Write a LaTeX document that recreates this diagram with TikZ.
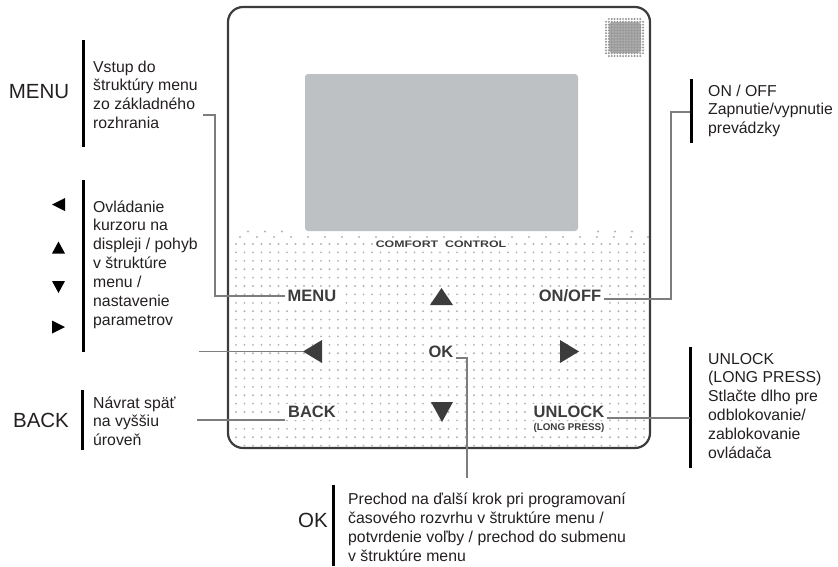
\documentclass[tikz,border=0pt]{standalone}
\usepackage{fontspec}
\setmainfont{Liberation Sans}
\newfontfamily\widefont[FakeStretch=1.3]{Liberation Sans}

\definecolor{frame}{HTML}{3C3C3C}
\definecolor{lcd}{HTML}{BDC1C4}
\definecolor{dots}{HTML}{B3B3B3}
\definecolor{grille}{HTML}{959595}
\definecolor{lead}{HTML}{7D7D7D}
\definecolor{ink}{HTML}{231F20}

\tikzset{
    desctext/.style={anchor=base west, align=left, inner sep=0pt, text=ink, font=\fontsize{15.8}{18.9}\selectfont},
    biglabel/.style={text=ink, inner sep=0pt, font=\fontsize{20.5}{24}\selectfont},
    keylabel/.style={text=frame, fill=white, inner sep=2.5pt, font=\fontsize{16.5}{18}\selectfont\bfseries},
    leadline/.style={draw=lead, line width=1.8pt},
    descbar/.style={draw=black, line width=3pt},
}

\begin{document}
\begin{tikzpicture}[x=1pt, y=-1pt]
    \useasboundingbox (0,0) rectangle (838,566);

    % Ovládač
    \begin{scope}
        \clip[rounded corners=14] (229,8) rectangle (649,447);
        \foreach \r in {0,...,24}
            \foreach \c in {0,...,48}
                \fill[dots] (236+\c*8.5, 244+\r*8.4) circle (1.05);
        \foreach \c in {0,...,24}
            \fill[dots] (240+\c*17, 237) circle (1.05);
        \foreach \x in {248,265,282,598,615,632}
            \fill[dots] (\x, 231.5) circle (1.05);
    \end{scope}
    \draw[frame, line width=2.2pt, rounded corners=15] (228,7) rectangle (650,448);
    \fill[lcd, rounded corners=3] (305,74) rectangle (578,231);

    % reproduktor
    \fill[grille!80, rounded corners=3] (609,22) rectangle (641,53);
    \foreach \r in {1,...,12}
        \foreach \c in {0,...,13}
            \fill[grille] (606+\c*2.85, 19+\r*2.85) circle (1.1);
    \foreach \r in {0,13}
        \foreach \c in {1,...,12}
            \fill[grille] (606+\c*2.85, 19+\r*2.85) circle (1.1);

    \node[fill=white, inner sep=2pt, text=frame, font=\widefont\fontsize{9.5}{10}\selectfont\bfseries] (brand) at (441,244) {COMFORT\ \ CONTROL};

    % tlačidlá
    \node[keylabel] (bmenu) at (312,296) {MENU};
    \node[keylabel] (bonoff) at (570,296) {ON/OFF};
    \node[keylabel] (bok) at (441,352) {OK};
    \node[keylabel] (bback) at (312,412) {BACK};
    \node[keylabel] (bunlock) at (569,412) {UNLOCK};
    \node[keylabel, inner sep=1pt, font=\fontsize{9.8}{11}\selectfont\bfseries] (blong) at (569,428) {(LONG PRESS)};

    \coordinate (kup) at (441.5,288);
    \coordinate (kdown) at (442,422);
    \coordinate (kleft) at (303,351.5);
    \coordinate (kright) at (579,351.5);
    \fill[frame] (kup) -- ++(11.5,17) -- ++(-23,0) -- cycle;
    \fill[frame] (kdown) -- ++(11,-20) -- ++(-22,0) -- cycle;
    \fill[frame] (kleft) -- ++(19,-11.5) -- ++(0,23) -- cycle;
    \fill[frame] (kright) -- ++(-19,-11.5) -- ++(0,23) -- cycle;

    % popisy vľavo
    \node[biglabel] (lmenu) at (39,92) {MENU};
    \draw[descbar] (83,40) -- (83,147);
    \node[desctext] (dmenu) at (93,128.7) {Vstup do\\štruktúry menu\\zo základného\\rozhrania};

    \fill (52,204.5) -- ++(13,-6.5) -- ++(0,13) -- cycle;
    \fill (58.5,241.5) -- ++(6.5,12) -- ++(-13,0) -- cycle;
    \fill (58.5,293) -- ++(6.5,-12) -- ++(-13,0) -- cycle;
    \fill (65,327) -- ++(-13,-6.5) -- ++(0,13) -- cycle;
    \draw[descbar] (83,180) -- (83,352);
    \node[desctext] (darrows) at (93,325.4) {Ovládanie\\kurzoru na\\displeji / pohyb\\v štruktúre\\menu /\\nastavenie\\parametrov};

    \node[biglabel] (lback) at (41,420) {BACK};
    \draw[descbar] (82,390) -- (82,450);
    \node[desctext] (dback) at (93,445.8) {Návrat späť\\na vyššiu\\úroveň};

    % popisy vpravo
    \draw[descbar] (691,79) -- (691,143);
    \node[desctext] (donoff) at (708,133.8) {ON / OFF\\Zapnutie/vypnutie\\prevádzky};

    \draw[descbar] (690,347) -- (690,468);
    \node[desctext] (dunlock) at (708,458.5) {UNLOCK\\(LONG PRESS)\\Stlačte dlho pre\\odblokovanie/\\zablokovanie\\ovládača};

    % popis dole
    \node[biglabel] (lok) at (313,520) {OK};
    \draw[descbar] (333,485) -- (333,566);
    \node[desctext] (dok) at (348,561.5) {Prechod na ďalší krok pri programovaní\\časového rozvrhu v štruktúre menu /\\potvrdenie voľby / prechod do submenu\\v štruktúre menu};

    % spojnice
    \coordinate (menuend) at (203,115);
    \coordinate (arrowend) at (199,351.5);
    \coordinate (backend) at (197,420);
    \coordinate (okend) at (467,478);
    \coordinate (onoffend) at (690,112);
    \coordinate (unlockend) at (690,418);
    \draw[leadline] (menuend) -- ++(12,0) |- (bmenu.west);
    \draw[leadline] (arrowend) -- (kleft);
    \draw[leadline] (backend) -- (backend -| bback.west);
    \draw[leadline] (okend) |- (bok.base east);
    \draw[leadline] (onoffend) -- ++(-19,0) |- ([yshift=-3pt]bonoff.east);
    \draw[leadline] (bunlock.base east) -- (bunlock.base east -| unlockend);
\end{tikzpicture}
\end{document}
